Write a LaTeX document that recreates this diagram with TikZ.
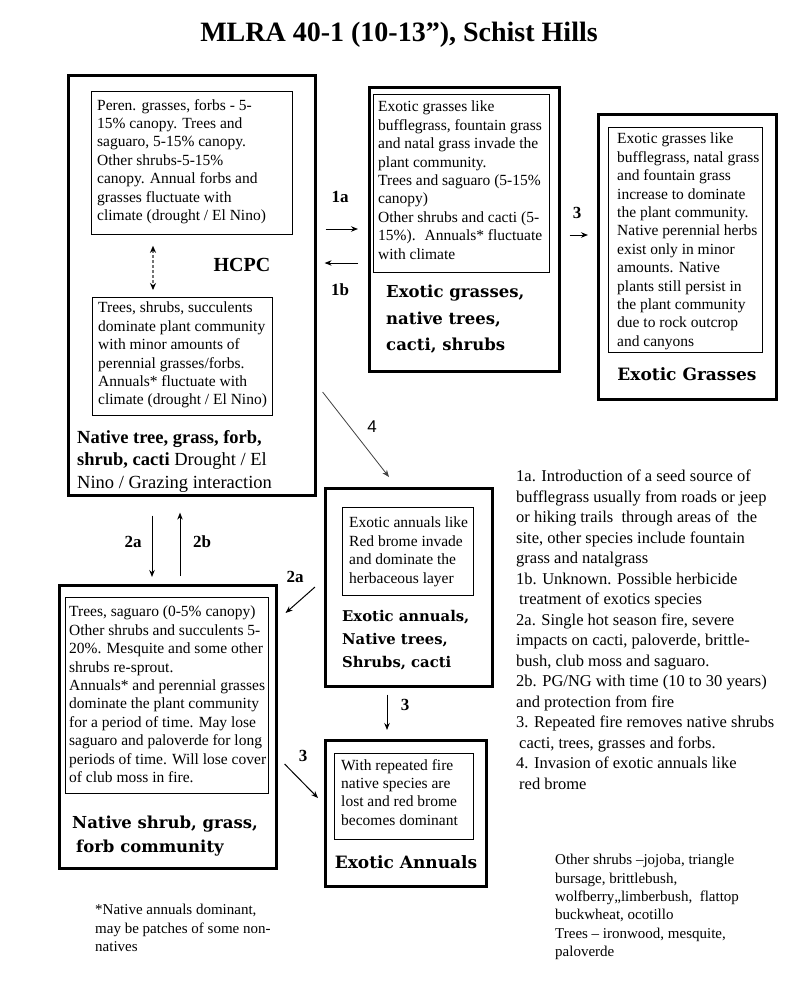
\documentclass[tikz,border=0pt]{standalone}
\usepackage{fontspec}
\setmainfont{Liberation Serif}
\newfontfamily\statefont{DejaVu Serif}
\newfontfamily\numfont{Liberation Sans}
\usetikzlibrary{arrows.meta}

\tikzset{
  statebox/.style={draw, line width=2.6pt, inner sep=0pt, anchor=north west},
  card/.style={draw, line width=0.8pt, inner sep=0pt, anchor=north west},
  cardtext/.style={inner sep=0pt, anchor=north west, align=left, font=\fontsize{15.5}{18.4}\selectfont},
  statename/.style={inner sep=0pt, align=left, font=\statefont\bfseries\fontsize{16.5}{26.5}\selectfont},
  note/.style={inner sep=0pt, anchor=north west, align=left, font=\fontsize{15}{18.4}\selectfont},
  lbl/.style={inner sep=0pt, font=\fontsize{17}{20}\selectfont\bfseries},
  arr/.style={-{Stealth[length=7pt,width=5.5pt]}, line width=1pt},
  dasharr/.style={{Stealth[length=7pt,width=6pt,black]}-{Stealth[length=7pt,width=6pt,black]}, dash pattern=on 3pt off 2pt, line width=1.4pt, black!55},
}

\begin{document}
\begin{tikzpicture}[x=1pt, y=-1pt]
\useasboundingbox (0,0) rectangle (800,985);

\node[font=\fontsize{28}{32}\selectfont\bfseries] (title) at (399,35) {MLRA 40-1 (10-13”), Schist Hills};

% HCPC
\node[statebox, minimum width=247pt, minimum height=420pt] (hcpc) at (67,74) {};
\node[card, minimum width=201pt, minimum height=143pt] (hcpcA) at (91,91) {};
\node[cardtext] (hcpcAtext) at ([shift={(6pt,-8pt)}]hcpcA.north west) {Peren. grasses, forbs - 5-\\15\% canopy. Trees and\\saguaro, 5-15\% canopy.\\Other shrubs-5-15\%\\canopy. Annual forbs and\\grasses fluctuate with\\climate (drought / El Nino)};
\node[card, minimum width=180pt, minimum height=118pt] (hcpcB) at (92,297) {};
\node[cardtext] (hcpcBtext) at ([shift={(6pt,-5pt)}]hcpcB.north west) {Trees, shrubs, succulents\\dominate plant community\\with minor amounts of\\perennial grasses/forbs.\\Annuals* fluctuate with\\climate (drought / El Nino)};
\node[font=\fontsize{20}{24}\selectfont\bfseries] (hcpclabel) at (242,265) {HCPC};
\node[inner sep=0pt, anchor=north west, align=left, font=\fontsize{18.5}{22.5}\selectfont] (hcpcname) at (77,430) {\textbf{Native tree, grass, forb,}\\\textbf{shrub, cacti} Drought / El\\Nino / Grazing interaction};
\draw[dasharr, shorten <=11pt, shorten >=7pt] ([xshift=62pt]hcpcA.south west) -- ([xshift=61pt]hcpcB.north west);

% exotic grasses, native trees
\node[statebox, minimum width=190pt, minimum height=284pt] (exg) at (368,86) {};
\node[card, minimum width=176pt, minimum height=178pt] (exgA) at (373,94) {};
\node[cardtext] (exgAtext) at ([shift={(5pt,-7pt)}]exgA.north west) {Exotic grasses like\\bufflegrass, fountain grass\\and natal grass invade the\\plant community.\\Trees and saguaro (5-15\%\\canopy)\\Other shrubs and cacti (5-\\15\%). \ Annuals* fluctuate\\with climate};
\node[statename, anchor=north west] (exgname) at (386,285) {Exotic grasses,\\native trees,\\cacti, shrubs};

% exotic grasses
\node[statebox, minimum width=178pt, minimum height=285pt] (exgr) at (597,113) {};
\node[card, minimum width=154pt, minimum height=225pt] (exgrA) at (608,127) {};
\node[cardtext] (exgrAtext) at ([shift={(9pt,-6pt)}]exgrA.north west) {Exotic grasses like\\bufflegrass, natal grass\\and fountain grass\\increase to dominate\\the plant community.\\Native perennial herbs\\exist only in minor\\amounts. Native\\plants still persist in\\the plant community\\due to rock outcrop\\and canyons};
\node[statename, font=\statefont\bfseries\fontsize{17}{20}\selectfont] (exgrname) at (687,374) {Exotic Grasses};

% exotic annuals, native trees
\node[statebox, minimum width=167pt, minimum height=198pt] (exan) at (324,487) {};
\node[card, minimum width=131pt, minimum height=88pt] (exanA) at (342,507) {};
\node[cardtext] (exanAtext) at ([shift={(7pt,-10pt)}]exanA.north west) {Exotic annuals like\\Red brome invade\\and dominate the\\herbaceous layer};
\node[statename, anchor=north west, font=\statefont\bfseries\fontsize{14.8}{23}\selectfont] (exanname) at (342,610) {Exotic annuals,\\Native trees,\\Shrubs, cacti};

% exotic annuals
\node[statebox, minimum width=161pt, minimum height=146pt] (exann) at (324,739) {};
\node[card, minimum width=139pt, minimum height=86pt] (exannA) at (334,753) {};
\node[cardtext] (exannAtext) at ([shift={(7pt,-6pt)}]exannA.north west) {With repeated fire\\native species are\\lost and red brome\\becomes dominant};
\node[statename, font=\statefont\bfseries\fontsize{17}{20}\selectfont] (exannname) at (406,862) {Exotic Annuals};

% native shrub, grass, forb
\node[statebox, minimum width=217pt, minimum height=283pt] (nsh) at (58,584) {};
\node[card, minimum width=203pt, minimum height=196pt] (nshA) at (65,597) {};
\node[cardtext] (nshAtext) at ([shift={(4pt,-9pt)}]nshA.north west) {Trees, saguaro (0-5\% canopy)\\Other shrubs and succulents 5-\\20\%. Mesquite and some other\\shrubs re-sprout.\\Annuals* and perennial grasses\\dominate the plant community\\for a period of time. May lose\\saguaro and paloverde for long\\periods of time. Will lose cover\\of club moss in fire.};
\node[statename, anchor=north west, font=\statefont\bfseries\fontsize{16.5}{24}\selectfont] (nshname) at (72,816) {Native shrub, grass,\\\hspace*{4pt}forb community};

% transitions
\draw[arr, shorten <=9pt, shorten >=10pt] ([yshift=-155pt]hcpc.north east) -- ([yshift=-143pt]exg.north west);
\draw[arr, shorten <=10pt, shorten >=8pt] ([yshift=-177pt]exg.north west) -- ([yshift=-189pt]hcpc.north east);
\draw[arr, shorten <=9pt, shorten >=9pt] ([yshift=-149pt]exg.north east) -- ([yshift=-122pt]exgr.north west);
\draw[-{Stealth[length=7pt,width=5.5pt]}, line width=0.8pt, black!75] ([shift={(6pt,-318pt)}]hcpc.north east) -- ([shift={(65pt,10pt)}]exan.north west);
\draw[arr, shorten <=19pt, shorten >=7pt] ([xshift=85pt]hcpc.south west) -- ([xshift=94pt]nsh.north west);
\draw[arr, shorten <=8pt, shorten >=16pt] ([xshift=122pt]nsh.north west) -- ([xshift=113pt]hcpc.south west);
\draw[arr] ([shift={(-9pt,-100pt)}]exan.north west) -- ([shift={(8pt,-29pt)}]nsh.north east);
\draw[arr] ([shift={(7pt,-180pt)}]nsh.north east) -- ([shift={(-6pt,-59pt)}]exann.north west);
\draw[arr, shorten <=7pt, shorten >=9pt] ([xshift=63pt]exan.south west) -- ([xshift=63pt]exann.north west);

\node[lbl] (l1a) at (340,197) {1a};
\node[lbl] (l1b) at (340,290) {1b};
\node[lbl] (l3top) at (577,213) {3};
\node[inner sep=0pt, font=\numfont\fontsize{17}{20}\selectfont] (l4) at (372,427) {4};
\node[lbl] (l2a) at (133,542) {2a};
\node[lbl] (l2b) at (202,542) {2b};
\node[lbl] (l2adiag) at (295,577) {2a};
\node[lbl] (l3down) at (405,705) {3};
\node[lbl] (l3diag) at (303,756) {3};

% notes
\node[note, font=\fontsize{16.5}{20.5}\selectfont] (keynotes) at (516,470) {1a. Introduction of a seed source of\\bufflegrass usually from roads or jeep\\or hiking trails \ through areas of \ the\\site, other species include fountain\\grass and natalgrass\\1b. Unknown. Possible herbicide\\\hspace*{3pt}treatment of exotics species\\2a. Single hot season fire, severe\\impacts on cacti, paloverde, brittle-\\bush, club moss and saguaro.\\2b. PG/NG with time (10 to 30 years)\\and protection from fire\\3. Repeated fire removes native shrubs\\\hspace*{3pt}cacti, trees, grasses and forbs.\\4. Invasion of exotic annuals like\\\hspace*{3pt}red brome};
\node[note] (speciesnote) at (555,854) {Other shrubs –jojoba, triangle\\bursage, brittlebush,\\wolfberry,,limberbush, \ flattop\\buckwheat, ocotillo\\Trees – ironwood, mesquite,\\paloverde};
\node[note] (footnote) at (95,904) {*Native annuals dominant,\\may be patches of some non-\\natives};
\end{tikzpicture}
\end{document}
